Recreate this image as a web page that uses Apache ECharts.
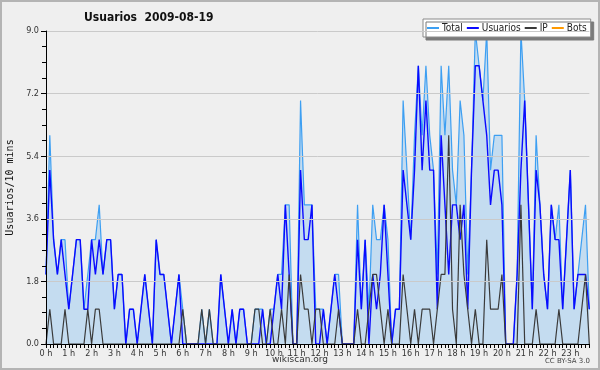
<!DOCTYPE html>
<html><head><meta charset="utf-8">
<script src="https://cdn.jsdelivr.net/npm/echarts@6/dist/echarts.min.js"></script>
<style>html,body{margin:0;padding:0;background:#efefef}#c{width:600px;height:370px}</style>
</head><body><div id="c"></div><script>
// Hour tick labels
const hourLabels = ['0 h','1 h','2 h','3 h','4 h','5 h','6 h','7 h','8 h','9 h','10 h','11 h','12 h','13 h','14 h','15 h','16 h','17 h','18 h','19 h','20 h','21 h','22 h','23 h'];
// 10-minute slots (categories)
const slots = [];
for (let h = 0; h < 24; h++) for (let m = 0; m < 60; m += 10) slots.push(String(h).padStart(2,'0') + ':' + String(m).padStart(2,'0'));

const total = [
 2,6,3,2,3,3,1,2,3,3,1,2,
 3,3,4,2,3,3,1,2,2,0,1,1,
 0,1,2,1,0,3,2,2,1,0,1,2,
 1,0,0,0,0,1,0,1,0,0,2,1,
 0,1,0,1,1,0,0,1,1,1,0,1,
 1,2,2,4,4,0,0,7,4,4,4,1,
 1,1,0,1,2,2,0,0,0,0,4,1,
 3,1,4,3,3,4,3,0,1,1,7,5,
 3,6,8,6,8,6,5,2,8,6,8,5,
 4,7,6,2,5,9,8,7,9,5,6,6,
 6,0,0,0,2,9,7,4,1,6,4,2,
 1,4,3,4,1,3,5,1,2,3,4,1
];
const usuarios = [
 2,5,3,2,3,2,1,2,3,3,1,1,
 3,2,3,2,3,3,1,2,2,0,1,1,
 0,1,2,1,0,3,2,2,1,0,1,2,
 0,0,0,0,0,0,0,0,0,0,2,1,
 0,1,0,1,1,0,0,0,0,1,0,0,
 1,2,1,4,2,0,0,5,3,3,4,0,
 0,1,0,1,2,1,0,0,0,0,3,1,
 3,0,2,1,2,4,2,0,1,1,5,4,
 3,5,8,5,7,5,5,1,6,4,2,4,
 4,3,4,1,5,8,8,7,6,4,5,5,
 4,0,0,0,2,5,7,4,1,5,4,2,
 1,4,3,3,1,3,5,1,2,2,2,1
];
const ip = [
 0,1,0,0,0,1,0,0,0,0,0,1,
 0,1,1,0,0,0,0,0,0,0,0,0,
 0,0,0,0,0,0,0,0,0,0,0,0,
 1,0,0,0,0,1,0,1,0,0,0,0,
 0,0,0,0,0,0,0,1,1,0,0,1,
 0,0,1,0,2,0,0,2,1,1,0,1,
 1,0,0,0,0,1,0,0,0,0,1,0,
 0,1,2,2,1,0,1,0,0,0,2,1,
 0,1,0,1,1,1,0,1,2,2,6,1,
 0,4,2,1,0,1,0,0,3,1,1,1,
 2,0,0,0,0,4,0,0,0,1,0,0,
 0,0,0,1,0,0,0,0,0,1,2,0
];
const bots = [
 0,0,0,0,0,0,0,0,0,0,0,0, 0,0,0,0,0,0,0,0,0,0,0,0,
 0,0,0,0,0,0,0,0,0,0,0,0, 0,0,0,0,0,0,0,0,0,0,0,0,
 0,0,0,0,0,0,0,0,0,0,0,0, 0,0,0,0,0,0,0,0,0,0,0,0,
 0,0,0,0,0,0,0,0,0,0,0,0, 0,0,0,0,0,0,0,0,0,0,0,0,
 0,0,0,0,0,0,0,0,0,0,0,0, 0,0,0,0,0,0,0,0,0,0,0,0,
 0,0,0,0,0,0,0,0,0,0,0,0, 0,0,0,0,0,0,0,0,0,0,0,0
];
const seriesNames = ['Total','Usuarios','IP','Bots'];
const titleText = 'Usuarios  2009-08-19';
const yAxisName = 'Usuarios/10 mins';

const cond = "'DejaVu Sans Condensed','DejaVu Sans',sans-serif";
const chart = echarts.init(document.getElementById('c'), null, {renderer:'canvas'});
chart.setOption({
  backgroundColor: '#efefef',
  animation: false,
  title: {text: titleText, left: 84, top: 12, padding: 0,
    textStyle: {fontFamily: cond, fontWeight: 'bold', fontSize: 12, color: '#111'}},
  legend: {
    data: seriesNames, left: 423, top: 19, padding: [4, 4, 4, 4],
    itemWidth: 12, itemHeight: 2, itemGap: 4, icon: 'rect',
    backgroundColor: '#ffffff', borderColor: '#8a8a8a', borderWidth: 1,
    shadowColor: '#7a7a7a', shadowOffsetX: 3, shadowOffsetY: 3, shadowBlur: 0,
    textStyle: {fontFamily: cond, fontSize: 10, color: '#222', padding: [0,0,0,-2]}
  },
  grid: {left: 46, right: 10.7, top: 31, bottom: 26, containLabel: false, outerBoundsMode: 'none'},
  xAxis: {
    type: 'category', data: slots, boundaryGap: false, z: 5,
    axisLine: {lineStyle: {color: '#000', width: 1}},
    axisTick: {interval: 0, length: 4, lineStyle: {color: '#000'}},
    axisLabel: {interval: 5, formatter: (v, i) => (i % 6 === 0 ? hourLabels[i / 6] : ''),
      fontFamily: cond, fontSize: 9, color: '#333', margin: 5},
    splitLine: {show: false}
  },
  yAxis: {
    type: 'value', min: 0, max: 9, interval: 1.8, z: 5,
    name: yAxisName, nameLocation: 'middle', nameGap: 31,
    nameTextStyle: {fontFamily: "'DejaVu Sans Mono',monospace", fontSize: 10, color: '#111'},
    axisLine: {show: true, lineStyle: {color: '#000'}},
    axisTick: {show: true, length: 5, lineStyle: {color: '#000'}},
    minorTick: {show: true, splitNumber: 4, length: 4, lineStyle: {color: '#000'}},
    axisLabel: {formatter: v => v.toFixed(1), fontFamily: cond, fontSize: 9, color: '#333', margin: 7},
    splitLine: {lineStyle: {color: '#cacaca', width: 1}}
  },
  series: [
    {name: 'Total', type: 'line', data: total, showSymbol: false, symbol: 'none', z: 2,
      lineStyle: {color: '#3d9ff2', width: 1.2}, itemStyle: {color: '#3d9ff2'},
      areaStyle: {color: '#c4dcf0', opacity: 1}},
    {name: 'Usuarios', type: 'line', data: usuarios, showSymbol: false, symbol: 'none', z: 3,
      lineStyle: {color: '#0a0aff', width: 1.4}, itemStyle: {color: '#0a0aff'}},
    {name: 'IP', type: 'line', data: ip, showSymbol: false, symbol: 'none', z: 4,
      lineStyle: {color: '#3a3a3a', width: 1.2}, itemStyle: {color: '#3a3a3a'}},
    {name: 'Bots', type: 'line', data: bots, showSymbol: false, symbol: 'none', z: 1,
      lineStyle: {color: '#ff9900', width: 1.2}, itemStyle: {color: '#ff9900'}}
  ],
  graphic: [
    {type: 'rect', shape: {x: 1, y: 1, width: 598, height: 368}, style: {fill: 'none', stroke: '#b4b4b4', lineWidth: 2}, z: 100},
    {type: 'text', left: 'center', top: 355, style: {text: 'wikiscan.org', font: "9px 'DejaVu Sans'", fill: '#333'}},
    {type: 'text', right: 10, top: 358, style: {text: 'CC BY-SA 3.0', font: "7px 'DejaVu Sans'", fill: '#444'}}
  ]
});
</script></body></html>
